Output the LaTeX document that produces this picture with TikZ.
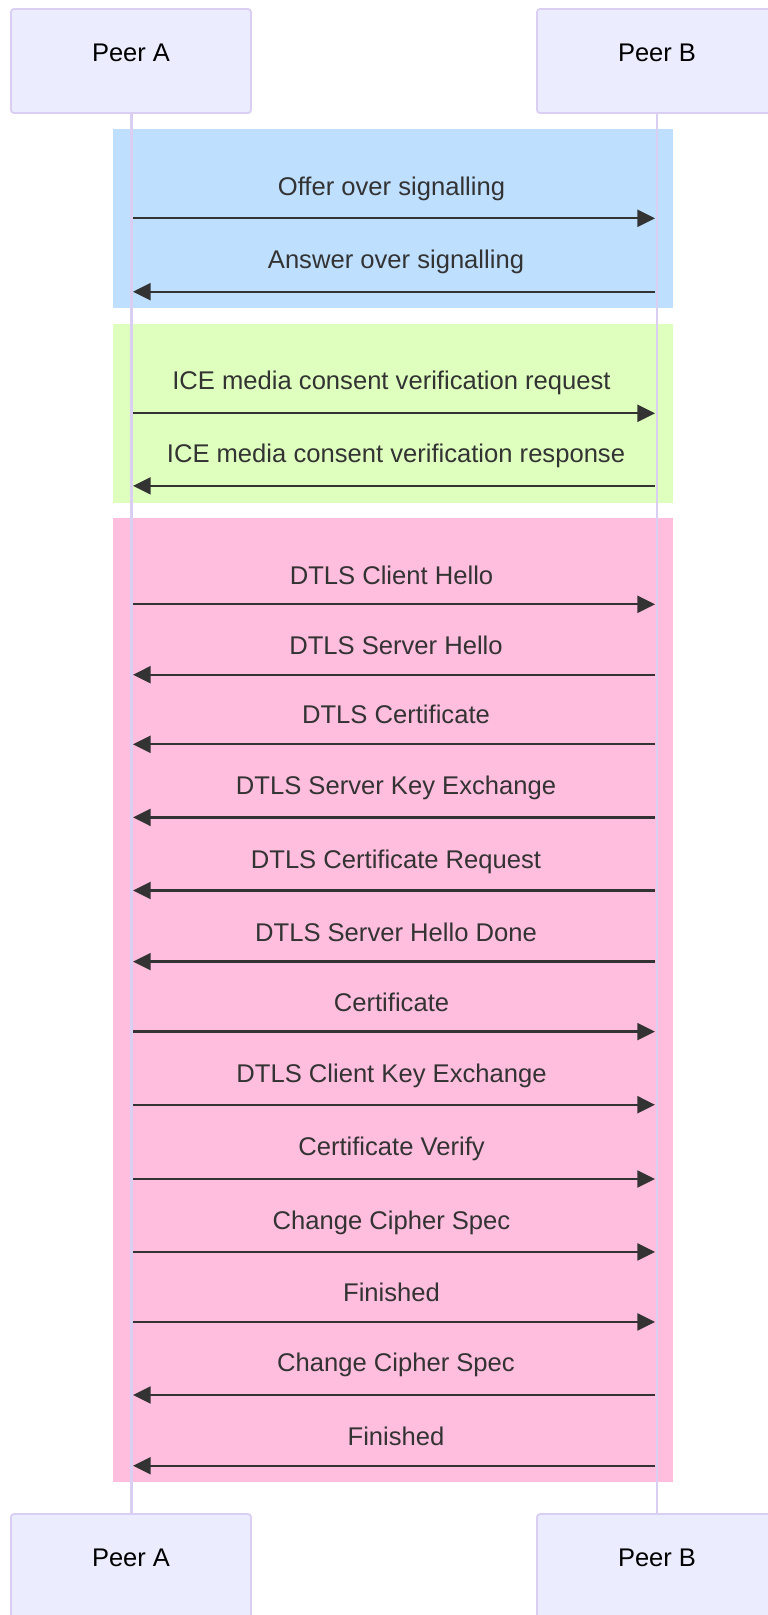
\documentclass[tikz,border=0pt]{standalone}
\usepackage{fontspec}
\setmainfont{Liberation Sans}
\usetikzlibrary{arrows.meta}
\definecolor{actorfill}{RGB}{236,236,255}
\definecolor{actorline}{RGB}{218,206,242}
\definecolor{msgcol}{RGB}{51,51,51}
\definecolor{blueR}{RGB}{191,223,255}
\definecolor{greenR}{RGB}{223,255,191}
\definecolor{pinkR}{RGB}{255,190,222}
\newcommand\msgR[4]{%
  \coordinate (a#1) at (133,#2);
  \coordinate (b#1) at (655,#2);
  \draw[msgline] (a#1) -- (b#1);
  \node[lbl] (m#1) at (391.5,#2-#3) {#4};}
\newcommand\msgL[4]{%
  \coordinate (a#1) at (133,#2);
  \coordinate (b#1) at (655,#2);
  \draw[msgline] (b#1) -- (a#1);
  \node[lbl] (m#1) at (396,#2-#3) {#4};}
\begin{document}
\begin{tikzpicture}[x=1pt,y=-1pt,
  actor/.style={draw=actorline, line width=1.8pt, fill=actorfill, rounded corners=3pt,
    minimum width=240pt, minimum height=104pt, inner sep=0pt},
  actortext/.style={text=black, font=\fontsize{25.5}{30}\selectfont, inner sep=0pt},
  lifeline/.style={draw=actorline, line width=2.6pt},
  msgline/.style={draw=msgcol, line width=2.3pt, -{Triangle[length=17.7pt,width=17pt]}},
  lbl/.style={text=msgcol, font=\fontsize{25.6}{30}\selectfont, inner sep=0pt, anchor=base}]
\useasboundingbox (0,0) rectangle (768,1615);
% background bands
\fill[blueR]  (112.7,129)   rectangle (673.3,307.5);
\fill[greenR] (112.7,324)   rectangle (673.3,502.7);
\fill[pinkR]  (112.7,518)   rectangle (673.3,1481.7);
% actors
\node[actor, label={[actortext, yshift=8.3pt]center:Peer A}] (At) at (131,61) {};
\node[actor, label={[actortext, yshift=8.3pt]center:Peer B}] (Bt) at (657,61) {};
\node[actor, label={[actortext, yshift=8.3pt]center:Peer A}] (Ab) at (131,1566) {};
\node[actor, label={[actortext, yshift=8.3pt]center:Peer B}] (Bb) at (657,1566) {};
% lifelines
\draw[lifeline] ([xshift=0.3pt]At.south) -- ([xshift=0.3pt]Ab.north);
\draw[lifeline] (Bt.south) -- (Bb.north);
% messages
\msgR{1}{218.3}{22.6}{Offer over signalling}
\msgL{2}{291.7}{23}{Answer over signalling}
\msgR{3}{413.3}{24}{ICE media consent verification request}
\msgL{4}{485.9}{23}{ICE media consent verification response}
\msgR{5}{604.3}{20}{DTLS Client Hello}
\msgL{6}{674.7}{20.4}{DTLS Server Hello}
\msgL{7}{744.3}{20.5}{DTLS Certificate}
\msgL{8}{817.4}{22.5}{DTLS Server Key Exchange}
\msgL{9}{890.5}{22.5}{DTLS Certificate Request}
\msgL{10}{961.6}{20.5}{DTLS Server Hello Done}
\msgR{11}{1031.6}{20.5}{Certificate}
\msgR{12}{1104.7}{22.5}{DTLS Client Key Exchange}
\msgR{13}{1179}{24}{Certificate Verify}
\msgR{14}{1251.9}{22.5}{Change Cipher Spec}
\msgR{15}{1321.9}{20.5}{Finished}
\msgL{16}{1395}{24}{Change Cipher Spec}
\msgL{17}{1465.7}{20}{Finished}
\end{tikzpicture}
\end{document}
